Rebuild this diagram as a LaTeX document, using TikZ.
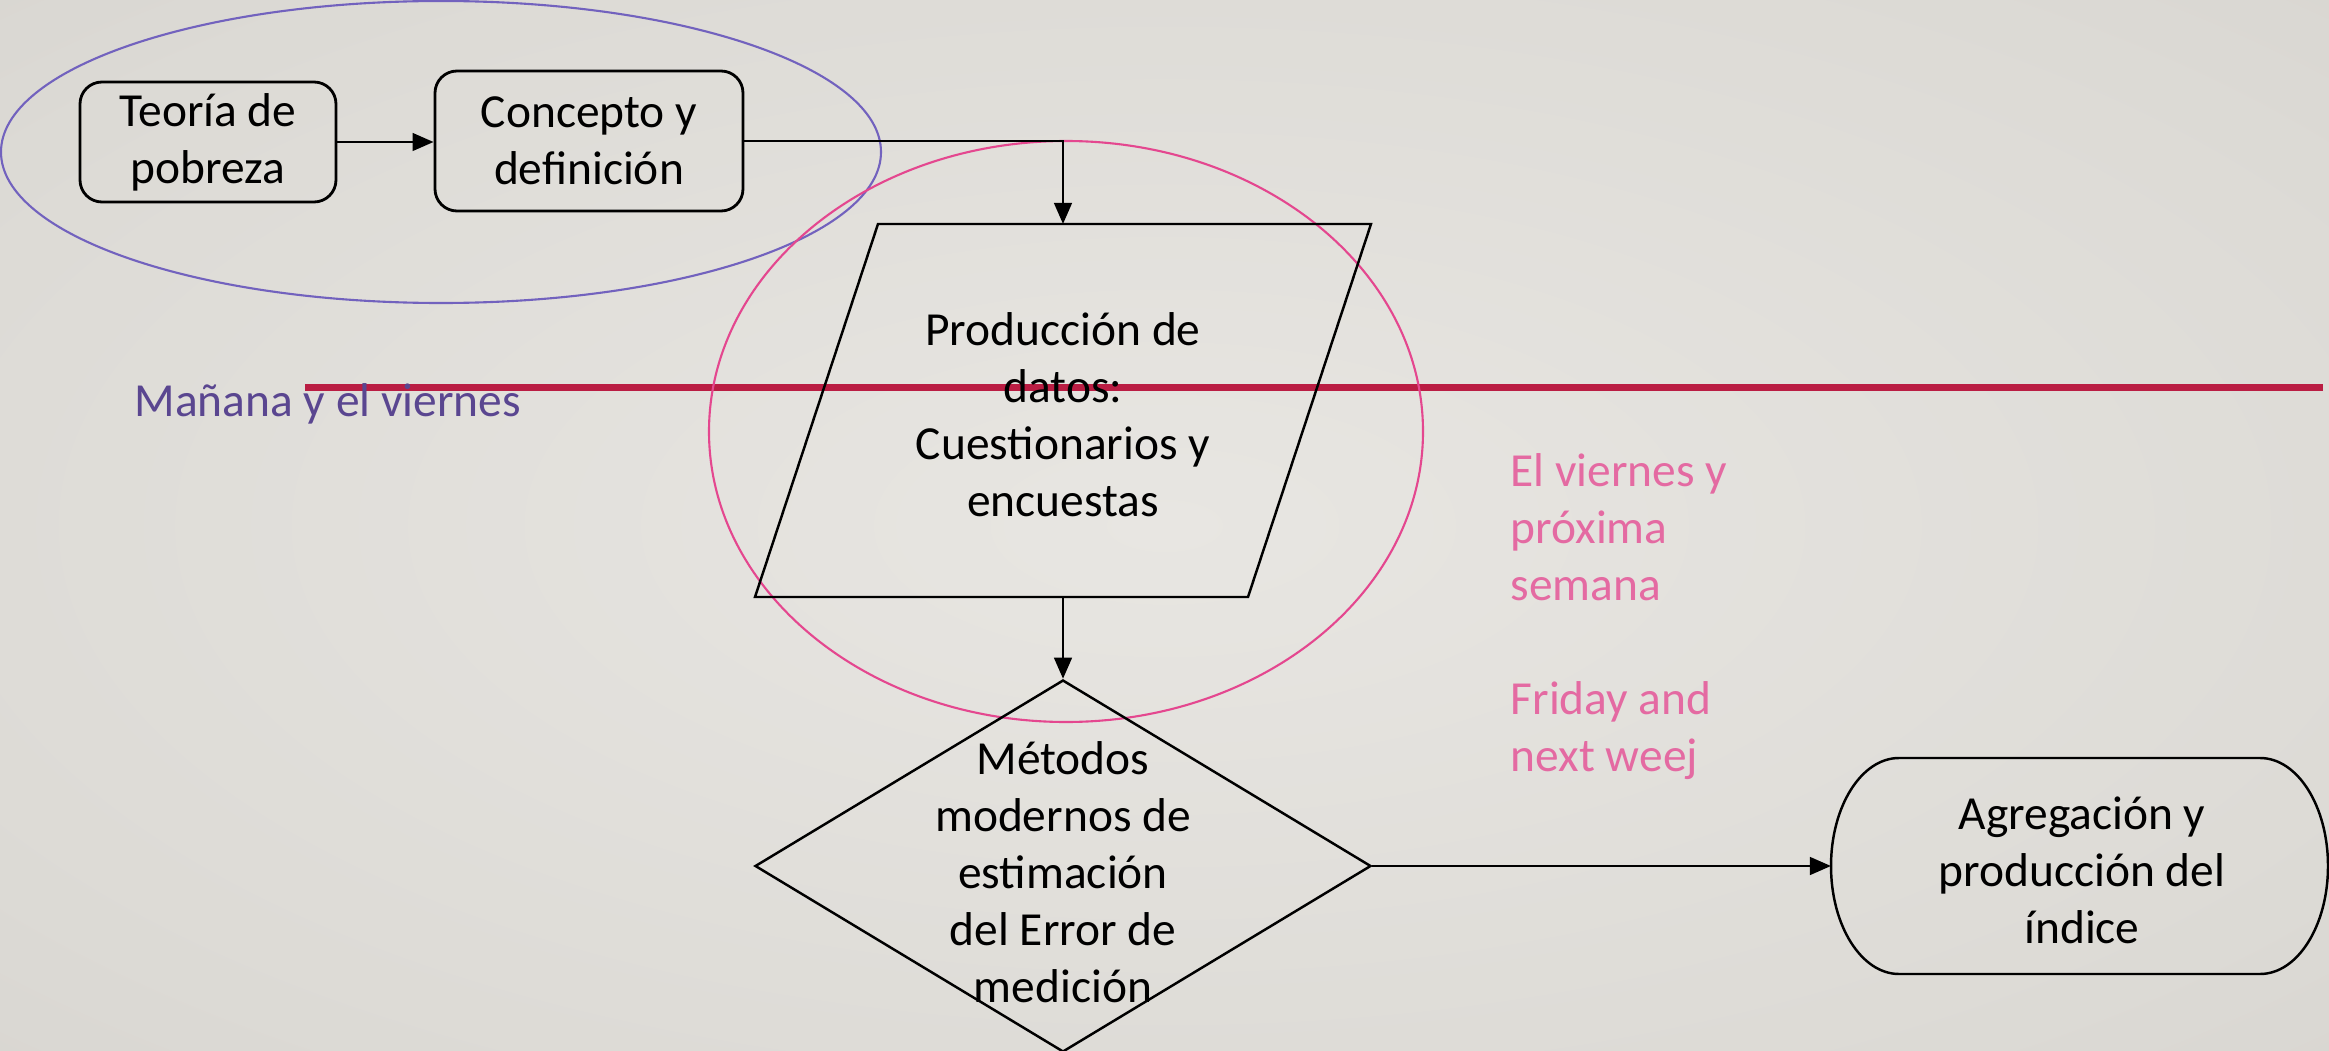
\documentclass[tikz,border=0pt]{standalone}
\usepackage{fontspec}
\setmainfont{Carlito}
\usetikzlibrary{shapes.geometric,arrows.meta}

\definecolor{bgin}{HTML}{E8E6E2}
\definecolor{bgmid}{HTML}{DCDAD5}
\definecolor{bgout}{HTML}{CCC9C4}
\definecolor{lineaRoja}{HTML}{BA1D43}
\definecolor{lila}{HTML}{5A4690}
\definecolor{lilaBorde}{HTML}{7262BE}
\definecolor{rosa}{HTML}{E46AA2}
\definecolor{rosaBorde}{HTML}{E4478F}
\pgfdeclareradialshading{fondo}{\pgfpoint{0bp}{0bp}}{color(0bp)=(bgin); color(30bp)=(bgmid); color(62bp)=(bgout)}

\tikzset{
  txt/.style={align=center, font=\fontsize{13.5}{16.2}\selectfont, inner sep=0pt},
  caja/.style={txt, draw, line width=0.8pt, rounded corners=0.22cm},
  flecha/.style={line width=0.8pt, -{Triangle[length=6pt,width=5pt]}},
  borde/.style={line width=0.7pt},
}

\begin{document}
\begin{tikzpicture}
    \shade [shading=fondo] (0, 0) rectangle (23.29, -10.51);
    \useasboundingbox (0, 0) rectangle (23.29, -10.51);

    \draw [lineaRoja, line width=2pt] (3.05, -3.875) -- (23.23, -3.875);

    \draw [lilaBorde, line width=0.6pt] (4.41, -1.52) ellipse [x radius=4.40, y radius=1.51];
    \draw [rosaBorde, line width=0.6pt] (10.66, -4.315) ellipse [x radius=3.57, y radius=2.905];

    \node [caja, minimum width=2.56cm, minimum height=1.20cm] (teoria) at (2.08, -1.42) {Teoría de\\pobreza};
    \node [caja, minimum width=3.08cm, minimum height=1.40cm] (concepto) at (5.89, -1.41) {Concepto y\\definición};

    \draw [borde] (8.78, -2.24) -- (13.71, -2.24) -- (12.48, -5.97) -- (7.55, -5.97) -- cycle;
    \coordinate (prodN) at (10.63, -2.24);
    \coordinate (prodS) at (10.63, -5.97);
    \node [txt] (produccion) at (10.63, -4.15) {Producción de\\datos:\\Cuestionarios y\\encuestas};

    \node [diamond, draw, borde, minimum width=6.16cm, minimum height=3.72cm, inner sep=0pt] (metodos) at (10.63, -8.66) {};
    \node [txt] (metodosTxt) at (10.63, -8.72) {Métodos\\modernos de\\estimación\\del Error de\\medición};

    \draw [borde] (18.99, -7.58) -- (22.60, -7.58) arc [start angle=90, end angle=-90, x radius=0.68, y radius=1.08]
        -- (18.99, -9.74) arc [start angle=270, end angle=90, x radius=0.68, y radius=1.08] -- cycle;
    \coordinate (agregW) at (18.31, -8.66);
    \node [txt] (agregacion) at (20.82, -8.70) {Agregación y\\producción del\\índice};

    \draw [flecha] (teoria.east) -- (teoria.east -| concepto.west);
    \draw [flecha] (concepto.east) -| (prodN);
    \draw [flecha] (prodS) -- (metodos.north);
    \draw [flecha] (metodos.east) -- (agregW);

    \node [txt, lila, anchor=base west] (manana) at (1.34, -4.16) {Mañana y el viernes};
    \node [txt, rosa, align=left, anchor=north west] (viernes) at (15.10, -4.53) {El viernes y\\próxima\\semana\\[16.2pt]Friday and\\next weej};
\end{tikzpicture}
\end{document}
